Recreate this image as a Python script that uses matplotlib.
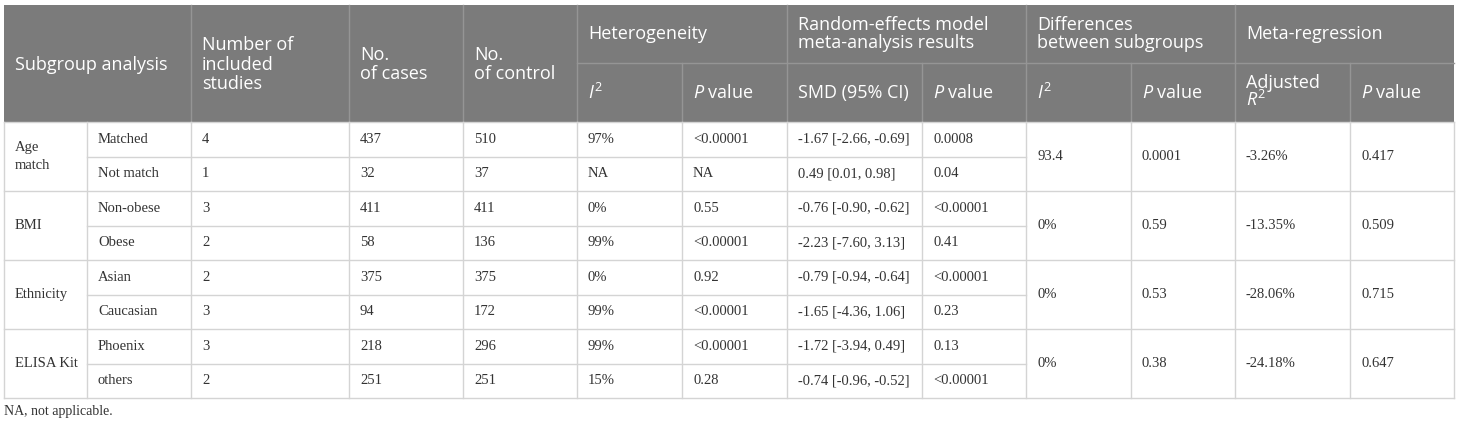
import matplotlib.pyplot as plt
from matplotlib.patches import Rectangle

plt.rcParams['mathtext.fontset'] = 'custom'
plt.rcParams['mathtext.rm'] = 'Open Sans'
plt.rcParams['mathtext.it'] = 'Open Sans:italic'

# data of the table
groups = ['Age\nmatch', 'BMI', 'Ethnicity', 'ELISA Kit']
subgroups = ['Matched', 'Not match', 'Non-obese', 'Obese', 'Asian', 'Caucasian', 'Phoenix', 'others']
n_studies = ['4', '1', '3', '2', '2', '3', '3', '2']
n_cases = ['437', '32', '411', '58', '375', '94', '218', '251']
n_control = ['510', '37', '411', '136', '375', '172', '296', '251']
het_i2 = ['97%', 'NA', '0%', '99%', '0%', '99%', '99%', '15%']
het_p = ['<0.00001', 'NA', '0.55', '<0.00001', '0.92', '<0.00001', '<0.00001', '0.28']
smd = ['-1.67 [-2.66, -0.69]', '0.49 [0.01, 0.98]', '-0.76 [-0.90, -0.62]', '-2.23 [-7.60, 3.13]',
       '-0.79 [-0.94, -0.64]', '-1.65 [-4.36, 1.06]', '-1.72 [-3.94, 0.49]', '-0.74 [-0.96, -0.52]']
smd_p = ['0.0008', '0.04', '<0.00001', '0.41', '<0.00001', '0.23', '0.13', '<0.00001']
diff_i2 = ['93.4', '0%', '0%', '0%']
diff_p = ['0.0001', '0.59', '0.53', '0.38']
adj_r2 = ['-3.26%', '-13.35%', '-28.06%', '-24.18%']
reg_p = ['0.417', '0.509', '0.715', '0.647']
footnote = 'NA, not applicable.'

# layout (pixels)
col_x = [4, 87, 191, 349, 463, 577, 682, 787, 922, 1026, 1131, 1235, 1350, 1454]
y_top, y_mid, y_head = 5, 63, 122
row_h = 34.5
n_rows = len(subgroups)
y_bot = y_head + n_rows * row_h
pad = 11

head_bg = '#7b7b7b'
head_line = '#959595'
grid = '#d4d4d4'
body_col = '#333333'
hfont = dict(family='Open Sans', size=13, color='white')
bfont = dict(family='Liberation Serif', size=10.5, color=body_col)

fig = plt.figure(figsize=(14.6, 4.25), dpi=100)
ax = fig.add_axes([0, 0, 1, 1])
ax.set_xlim(0, 1460)
ax.set_ylim(425, 0)
ax.axis('off')

# header background
ax.add_patch(Rectangle((col_x[0], y_top), col_x[-1] - col_x[0], y_head - y_top,
                       facecolor=head_bg, edgecolor='none'))
for i in [2, 3, 4, 5, 7, 9, 11]:
    ax.plot([col_x[i]] * 2, [y_top, y_head], color=head_line, lw=1)
for i in [6, 8, 10, 12]:
    ax.plot([col_x[i]] * 2, [y_mid, y_head], color=head_line, lw=1)
ax.plot([col_x[5], col_x[-1]], [y_mid, y_mid], color=head_line, lw=1)

# header texts
ymc = (y_top + y_head) / 2 + 1
ax.text(col_x[0] + pad, ymc, 'Subgroup analysis', va='center', ha='left', **hfont)
ax.text(col_x[2] + pad, ymc, 'Number of\nincluded\nstudies', va='center', ha='left', linespacing=1.08, **hfont)
ax.text(col_x[3] + pad, ymc, 'No.\nof cases', va='center', ha='left', linespacing=1.08, **hfont)
ax.text(col_x[4] + pad, ymc, 'No.\nof control', va='center', ha='left', linespacing=1.08, **hfont)
y1 = (y_top + y_mid) / 2
ax.text(col_x[5] + pad, y1, 'Heterogeneity', va='center', ha='left', **hfont)
ax.text(col_x[7] + pad, y1, 'Random-effects model\nmeta-analysis results', va='center', ha='left',
        linespacing=1.0, **hfont)
ax.text(col_x[9] + pad, y1, 'Differences\nbetween subgroups', va='center', ha='left', linespacing=1.0, **hfont)
ax.text(col_x[11] + pad, y1, 'Meta-regression', va='center', ha='left', **hfont)
y2 = (y_mid + y_head) / 2
sub_heads = {5: r'$I^{2}$', 6: r'$P$ value', 7: 'SMD (95% CI)', 8: r'$P$ value',
             9: r'$I^{2}$', 10: r'$P$ value', 12: r'$P$ value'}
for i, t in sub_heads.items():
    ax.text(col_x[i] + pad, y2, t, va='center', ha='left', **hfont)
ax.text(col_x[11] + pad, y2 - 10, 'Adjusted', va='center', ha='left', **hfont)
ax.text(col_x[11] + pad, y2 + 7, r'$R^{2}$', va='center', ha='left', **hfont)

# body grid
for k in range(n_rows + 1):
    y = y_head + k * row_h
    if k % 2 == 0:
        ax.plot([col_x[0], col_x[-1]], [y, y], color=grid, lw=1)
    else:
        ax.plot([col_x[1], col_x[9]], [y, y], color=grid, lw=1)
for x in col_x:
    ax.plot([x, x], [y_head, y_bot], color=grid, lw=1)

# body texts
row_cols = [subgroups, n_studies, n_cases, n_control, het_i2, het_p, smd, smd_p]
for r in range(n_rows):
    yc = y_head + (r + 0.5) * row_h
    for c, vals in enumerate(row_cols):
        ax.text(col_x[c + 1] + pad, yc, vals[r], va='center', ha='left', **bfont)

grp_cols = {0: groups, 9: diff_i2, 10: diff_p, 11: adj_r2, 12: reg_p}
for g in range(len(groups)):
    yc = y_head + (2 * g + 1) * row_h
    for c, vals in grp_cols.items():
        ax.text(col_x[c] + pad, yc, vals[g], va='center', ha='left', linespacing=1.5, **bfont)

ax.text(col_x[0], y_bot + 14, footnote, va='center', ha='left',
        family='Liberation Serif', size=10, color=body_col)

fig.savefig('out.png', dpi=100)
